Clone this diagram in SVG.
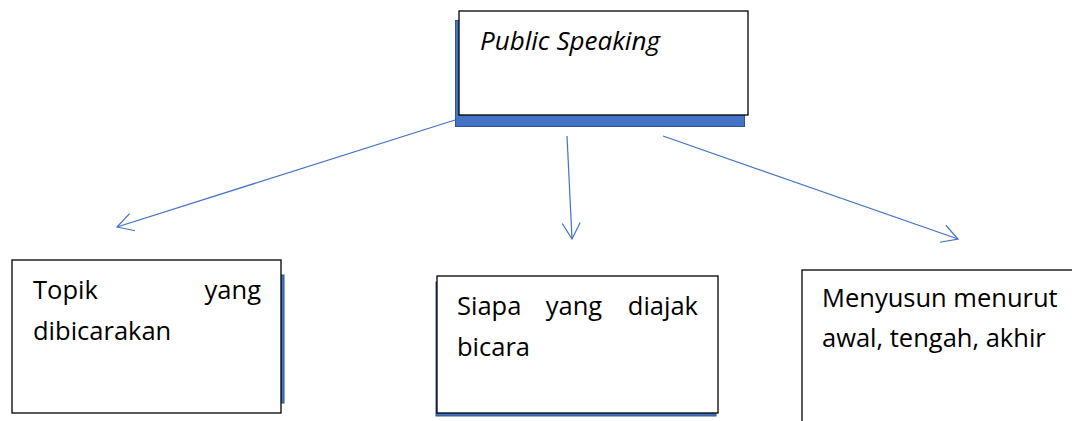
<svg xmlns="http://www.w3.org/2000/svg" width="1072" height="421" viewBox="0 0 1072 421">
<defs>
<style>
.box{fill:#ffffff;stroke:#000000;stroke-width:1.3}
.shadow{fill:#4472C4;stroke:#2F5597;stroke-width:1}
.t{font-family:"Open Sans","Noto Sans","Liberation Sans",sans-serif;font-size:25.5px;fill:#000000}
.ti{font-style:italic;font-size:26px}
.conn{stroke:#4472C4;stroke-width:1.2;fill:none}
</style>
<marker id="arr" markerUnits="userSpaceOnUse" markerWidth="22" markerHeight="22" viewBox="0 0 22 22" refX="18" refY="11" orient="auto">
<path d="M2,2 L18,11 L2,20" fill="none" stroke="#4472C4" stroke-width="1.2"/>
</marker>
</defs>
<rect width="1072" height="421" fill="#ffffff"/>
<g id="connectors">
<line class="conn" x1="455" y1="120" x2="117" y2="227" marker-end="url(#arr)"/>
<line class="conn" x1="567" y1="136" x2="572" y2="239" marker-end="url(#arr)"/>
<line class="conn" x1="663" y1="136" x2="958" y2="239" marker-end="url(#arr)"/>
</g>
<g id="node-public-speaking">
<rect class="shadow" x="455.5" y="20.5" width="289" height="106"/>
<rect class="box" x="459" y="11" width="289" height="104"/>
<text class="t ti" x="480" y="50">Public Speaking</text>
</g>
<g id="node-topik">
<rect class="shadow" x="20" y="275" width="264" height="128"/>
<rect class="box" x="12" y="260" width="269" height="153"/>
<text class="t" x="33" y="299">Topik</text>
<text class="t" x="261" y="299" text-anchor="end">yang</text>
<text class="t" x="33" y="340">dibicarakan</text>
</g>
<g id="node-siapa">
<rect class="shadow" x="436" y="282" width="280" height="134"/>
<rect class="box" x="437" y="276" width="281" height="137"/>
<text class="t" x="457" y="315">Siapa</text>
<text class="t" x="574" y="315" text-anchor="middle">yang</text>
<text class="t" x="698" y="315" text-anchor="end">diajak</text>
<text class="t" x="457" y="356">bicara</text>
</g>
<g id="node-menyusun">
<rect class="box" x="802" y="270" width="290" height="170"/>
<text class="t" x="822" y="307">Menyusun menurut</text>
<text class="t" x="822" y="347">awal, tengah, akhir</text>
</g>
</svg>
